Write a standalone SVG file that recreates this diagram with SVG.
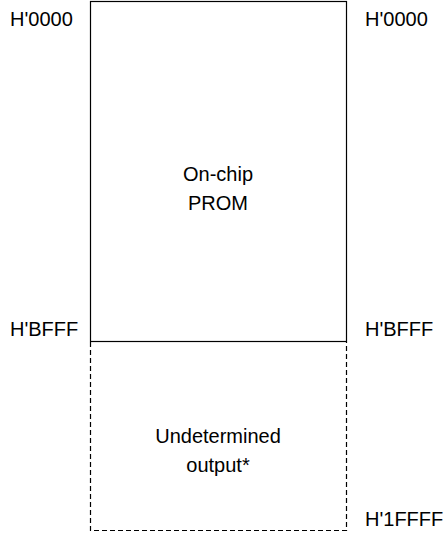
<svg xmlns="http://www.w3.org/2000/svg" width="448" height="534" viewBox="0 0 448 534">
<style>
text{font-family:"Liberation Sans",Arial,sans-serif;font-size:20px;fill:#000}
.c{text-anchor:middle}
.solid{fill:none;stroke:#000;stroke-width:1.2}
.dash{fill:none;stroke:#000;stroke-width:1.2;stroke-dasharray:5,3}
</style>
<rect width="448" height="534" fill="#fff"/>
<g id="labels">
<text x="10" y="26">H'0000</text>
<text x="365" y="26">H'0000</text>
<text x="10" y="336">H'BFFF</text>
<text x="365" y="336">H'BFFF</text>
<text x="365" y="526">H'1FFFF</text>
</g>
<g id="prom">
<rect class="solid" x="90.5" y="1.5" width="256" height="340"/>
<text class="c" x="218" y="181">On-chip</text>
<text class="c" x="218" y="210">PROM</text>
</g>
<g id="undetermined">
<path class="dash" d="M90.5 342 V530.5 H346.5 V342"/>
<text class="c" x="218" y="443">Undetermined</text>
<text class="c" x="218" y="472">output*</text>
</g>
<g id="connectors"/>
</svg>
